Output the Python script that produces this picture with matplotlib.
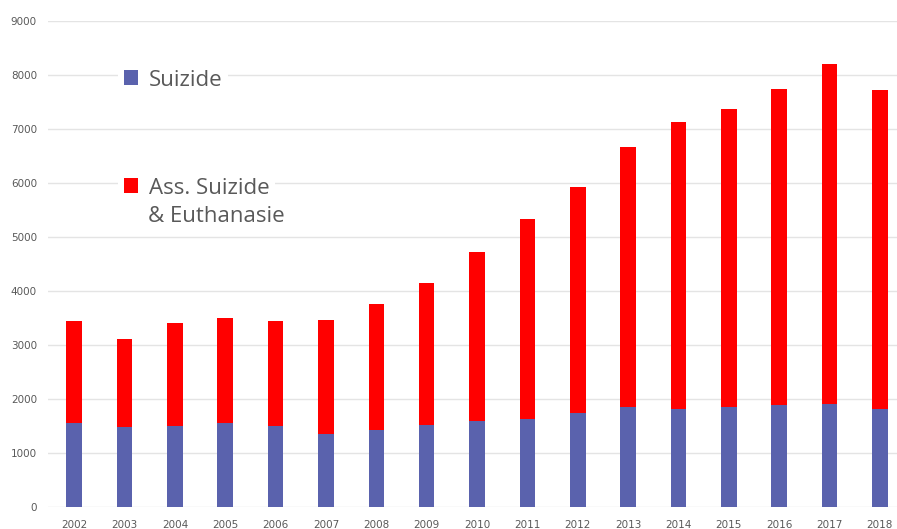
import matplotlib.pyplot as plt
import numpy as np

years = ["2002", "2003", "2004", "2005", "2006", "2007", "2008", "2009", "2010",
         "2011", "2012", "2013", "2014", "2015", "2016", "2017", "2018"]
suizide = [1555, 1480, 1500, 1555, 1500, 1350, 1425, 1515, 1585,
           1630, 1745, 1845, 1815, 1855, 1885, 1905, 1815]
totals = [3440, 3105, 3400, 3495, 3440, 3455, 3755, 4140, 4715,
          5325, 5935, 6675, 7135, 7375, 7745, 8205, 7725]
ass_suizide = [t - s for t, s in zip(totals, suizide)]

blue = "#5A62AD"
red = "#FF0000"
grey = "#595959"
W, H = 897, 529

fig = plt.figure(figsize=(W / 100, H / 100), dpi=100)
ax = fig.add_axes([48 / W, 1 - 507 / H, 1 - 48 / W, 486 / H])

x = np.arange(len(years))
b1 = ax.bar(x, suizide, width=0.31, color=blue, label="Suizide", zorder=3)
b2 = ax.bar(x, ass_suizide, width=0.31, bottom=suizide, color=red,
            label="Ass. Suizide", zorder=3)

ax.set_xlim(-0.52, 16.34)
ax.set_ylim(0, 9000)
ax.set_yticks(range(0, 9001, 1000))
ax.set_xticks(x)
ax.set_xticklabels(years)
ax.tick_params(axis="both", length=0, labelsize=7.5, labelcolor=grey)
ax.tick_params(axis="y", pad=8)
ax.tick_params(axis="x", pad=9)
ax.grid(axis="y", color="#E4E4E4", linewidth=1, zorder=0)
for s in ax.spines.values():
    s.set_visible(False)

# legend: two separate boxes so the square sits on the first text line
leg_kw = dict(frameon=True, loc="center left", handlelength=0.63, handleheight=0.63,
              handletextpad=0.5, borderpad=0.25, borderaxespad=0,
              bbox_transform=fig.transFigure,
              prop={"family": "Open Sans", "size": 16})
leg1 = ax.legend(handles=[b1], bbox_to_anchor=(118 / W, 1 - 80 / H), **leg_kw)
ax.add_artist(leg1)
leg2 = ax.legend(handles=[b2], bbox_to_anchor=(118 / W, 1 - 188 / H), **leg_kw)
for lg in (leg1, leg2):
    lg.get_frame().set_facecolor("white")
    lg.get_frame().set_edgecolor("none")
    lg.get_frame().set_alpha(1)
    lg.set_zorder(5)
    for t in lg.get_texts():
        t.set_color(grey)
fig.text(148 / W, 1 - 216 / H, "& Euthanasie", fontsize=16, family="Open Sans",
         color=grey, va="center", ha="left", zorder=6,
         bbox=dict(facecolor="white", edgecolor="none", pad=3))

fig.savefig("out.png", dpi=100)
